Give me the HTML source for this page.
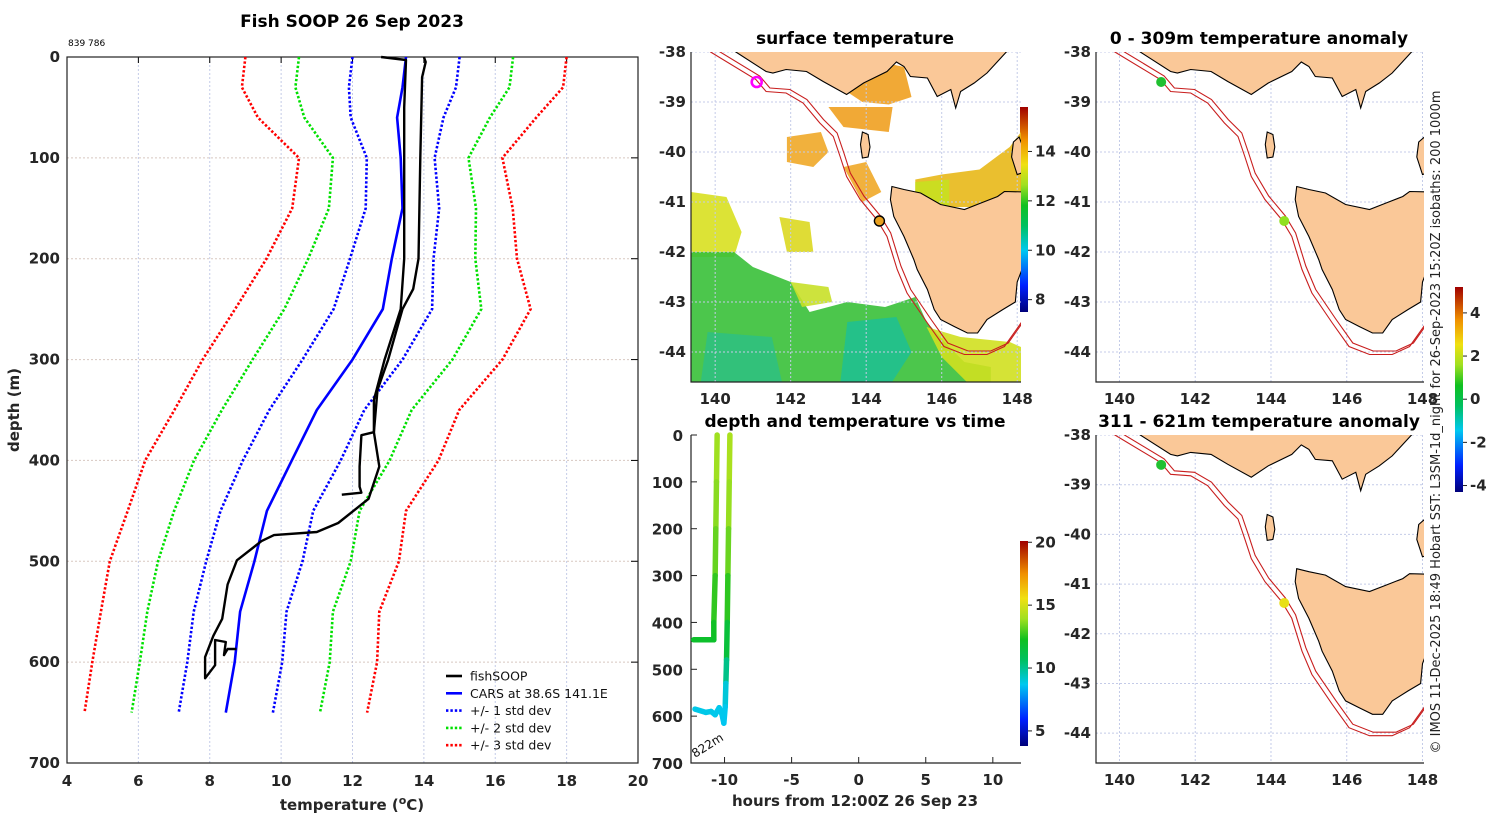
<!DOCTYPE html>
<html><head><meta charset="utf-8"><title>Fish SOOP 26 Sep 2023</title>
<style>
html,body{margin:0;padding:0;background:#fff;}
svg{display:block;font-family:"DejaVu Sans","Liberation Sans",sans-serif;}
.tk{font-weight:bold;font-size:15px;fill:#262626;}
.ttl{font-weight:bold;font-size:17px;fill:#000;}
</style></head>
<body>
<svg id="fig" width="1500" height="820" viewBox="0 0 1500 820" xmlns="http://www.w3.org/2000/svg">
<text class="ttl" x="352" y="27" text-anchor="middle">Fish SOOP 26 Sep 2023</text>
<text x="68" y="46" font-size="9" fill="#000">839 786</text>
<text class="tk" font-size="16" transform="translate(19,410) rotate(-90)" text-anchor="middle">depth (m)</text>
<text class="tk" font-size="16" x="352" y="810" text-anchor="middle">temperature (<tspan font-size="11" dy="-6">o</tspan><tspan dy="6">C)</tspan></text>
<text class="ttl" x="855" y="44" text-anchor="middle">surface temperature</text>
<text class="ttl" x="1259" y="44" text-anchor="middle">0 - 309m temperature anomaly</text>
<text class="ttl" x="855" y="427" text-anchor="middle">depth and temperature vs time</text>
<text class="ttl" x="1259" y="427" text-anchor="middle">311 - 621m temperature anomaly</text>
<text class="tk" font-size="16" x="855" y="806" text-anchor="middle">hours from 12:00Z 26 Sep 23</text>
<text font-size="13" fill="#222" transform="translate(1440,422) rotate(-90)" text-anchor="middle">© IMOS 11-Dec-2025 18:49 Hobart SST: L3SM-1d_night for 26-Sep-2023 15:20Z isobaths: 200  1000m</text>
<g id="g"></g>
</svg>
<script>
// ---------- profile data ----------
const depths=[0,30,60,100,150,200,250,300,350,400,450,500,550,600,650];
const carsMean=[13.5,13.4,13.25,13.35,13.4,13.1,12.85,12.0,11.0,10.3,9.6,9.25,8.85,8.7,8.45];
const carsStd=[1.5,1.5,1.3,0.95,1.03,1.17,1.38,1.4,1.33,1.37,1.3,1.35,1.3,1.33,1.32];
const fishT=[12.8,13.5,13.45,13.45,13.35,12.9,12.6,12.6,12.75,12.45,11.6,11.0,9.8,9.45,8.76,8.5,8.35,8.1,7.87,7.87,8.15,8.15,8.45,8.4,8.5,8.75];
const fishD=[0,3,50,200,250,300,340,372,406,438,462,471,474,480,499,523,557,574,595,616,603,578,580,593,587,587];
const fishUpT=[11.7,12.25,12.2,12.2,12.25,12.6,12.7,13.0,13.4,13.7,13.85,13.9,13.95,14.05,14.0];
const fishUpD=[434,432,426,406,375,372,330,300,250,230,200,100,20,5,0];
const tempTicks=[4,6,8,10,12,14,16,18,20];
const depthTicks=[0,100,200,300,400,500,600,700];
// ---------- depth-time data ----------
const hrs1=[-10.55,-10.6,-10.65,-10.7,-10.8,-10.8,-11.5,-12.3];
const dep1=[0,100,200,300,400,437,437,437];
const tmp1=[14,13.8,13.5,13,12.3,12,12,12];
const hrs2=[-9.6,-9.65,-9.7,-9.75,-9.8,-9.85,-9.9,-9.95,-10.05,-10.2,-10.4,-10.7,-11.0,-11.4,-12.2];
const dep2=[0,100,200,300,400,480,530,580,615,595,582,597,590,592,585];
const tmp2=[14.2,14,13.6,13,12.2,11,9.2,8.8,8.6,8.7,8.8,8.7,8.8,8.8,8.8];
const hourTicks=[-10,-5,0,5,10];
const lonTicks=[140,142,144,146,148];
const latTicks=[-38,-39,-40,-41,-42,-43,-44];

const NS="http://www.w3.org/2000/svg";
const G=document.getElementById('g');
function mk(tag,at,par){const e=document.createElementNS(NS,tag);for(const k in at)e.setAttribute(k,at[k]);(par||G).appendChild(e);return e;}

// ---------- profile axes ----------
const PX0=67,PX1=638,PY0=57,PY1=763;
const X=t=>PX0+(t-4)*(PX1-PX0)/16;
const Y=d=>PY0+d*(PY1-PY0)/700;
tempTicks.forEach(t=>{
  const l=mk('line',{x1:X(t),x2:X(t),y1:PY0,y2:PY1,stroke:'#c4cbe8','stroke-width':1,'stroke-dasharray':'2,2'});
  
  
  const tk=mk('text',{x:X(t),y:PY1+23,'text-anchor':'middle','class':'tk'});tk.textContent=t;
  
  
  const m=mk('line',{x1:X(t),x2:X(t),y1:PY0,y2:PY0+6,stroke:'#000'});
  
  
});
depthTicks.forEach(d=>{
  const l=mk('line',{x1:PX0,x2:PX1,y1:Y(d),y2:Y(d),stroke:'#d8c8c0','stroke-width':1,'stroke-dasharray':'2,2'});
  
  
  const tk=mk('text',{x:PX0-7,y:Y(d)+5,'text-anchor':'end','class':'tk'});tk.textContent=d;
  
  
  const m=mk('line',{x1:PX1-7,x2:PX1,y1:Y(d),y2:Y(d),stroke:'#000'});
  
  
});
const fr=mk('rect',{x:PX0,y:PY0,width:PX1-PX0,height:PY1-PY0,fill:'none',stroke:'#222','stroke-width':1.2});



function pts(ts,ds){return ts.map((t,i)=>X(t).toFixed(1)+','+Y(ds[i]).toFixed(1)).join(' ');}
[[3,'#ff0000'],[2,'#00e000'],[1,'#0000ff']].forEach(([k,c])=>{
  [-1,1].forEach(s=>{
    const p=mk('polyline',{points:pts(carsMean.map((m,i)=>m+s*k*carsStd[i]),depths),fill:'none',stroke:c,'stroke-width':2.6,'stroke-dasharray':'2.4,2'});
    
    
  });
});
const cars=mk('polyline',{points:pts(carsMean,depths),fill:'none',stroke:'#0000ff','stroke-width':2.6});


const fishA=mk('polyline',{points:pts(fishT,fishD),fill:'none',stroke:'#000','stroke-width':2.4,'stroke-linejoin':'round'});


const fishB=mk('polyline',{points:pts(fishUpT,fishUpD),fill:'none',stroke:'#000','stroke-width':2.4,'stroke-linejoin':'round'});



// legend
const legItems=[['fishSOOP','#000',''],['CARS at 38.6S 141.1E','#0000ff',''],['+/- 1 std dev','#0000ff','2.4,2'],['+/- 2 std dev','#00e000','2.4,2'],['+/- 3 std dev','#ff0000','2.4,2']];
legItems.forEach((it,i)=>{
  const y=676+i*17.3;
  const l=mk('line',{x1:446,x2:462,y1:y,y2:y,stroke:it[1],'stroke-width':2.6,'stroke-dasharray':it[2]||'none'});
  
  
  const t=mk('text',{x:470,y:y+4.5,'font-size':12.5,fill:'#111'});t.textContent=it[0];
  
  
});

// ---------- colormap ----------
const cstops=[[0,'#00007a'],[0.13,'#0020ff'],[0.3,'#00c8f0'],[0.42,'#00c060'],[0.52,'#10c020'],[0.62,'#a0e020'],[0.72,'#f0e010'],[0.84,'#f09000'],[1,'#a00000']];
function hex(h){return [1,3,5].map(i=>parseInt(h.substr(i,2),16));}
function cmap(f){f=Math.max(0,Math.min(1,f));for(let i=1;i<cstops.length;i++){if(f<=cstops[i][0]){const a=cstops[i-1],b=cstops[i];const u=(f-a[0])/(b[0]-a[0]);const A=hex(a[1]),B=hex(b[1]);return 'rgb('+A.map((v,j)=>Math.round(v+(B[j]-v)*u)).join(',')+')';}}return cstops[cstops.length-1][1];}
const defs=mk('defs',{});
const lg=mk('linearGradient',{id:'jet',x1:0,y1:1,x2:0,y2:0},defs);
cstops.forEach(s=>mk('stop',{offset:s[0],'stop-color':s[1]},lg));
function colorbar(name,x,y0,y1,vmin,vmax,ticks){
  const r=mk('rect',{x:x,y:y0,width:8,height:y1-y0,fill:'url(#jet)'});
  
  
  ticks.forEach(v=>{
    const yy=y1-(v-vmin)/(vmax-vmin)*(y1-y0);
    const m=mk('line',{x1:x+8,x2:x+12,y1:yy,y2:yy,stroke:'#222'});
    
    
    const t=mk('text',{x:x+15,y:yy+5,'class':'tk','font-size':13});t.textContent=v;
    
    
  });
}
colorbar('sst-colorbar',1020,107,312,7.5,15.8,[8,10,12,14]);
colorbar('depth-time-colorbar',1020,541,746,3.8,20.1,[5,10,15,20]);
colorbar('anomaly-colorbar',1455,287,492,-4.3,5.2,[-4,-2,0,2,4]);

// ---------- maps ----------
const vic=[[139.3,-37.5],[140.55,-38],[141.35,-38.39],[141.53,-38.42],[141.88,-38.35],[142.42,-38.39],[142.86,-38.59],[143.48,-38.85],[143.93,-38.62],[144.55,-38.39],[144.8,-38.2],[145.0,-38.29],[145.17,-38.49],[145.62,-38.52],[145.88,-38.89],[146.24,-38.75],[146.37,-39.12],[146.5,-38.79],[146.86,-38.62],[147.2,-38.42],[147.71,-38],[148.5,-37.5]];
const tas=[[144.68,-40.69],[145.0,-40.75],[145.44,-40.82],[145.97,-41.05],[146.6,-41.15],[147.04,-41.02],[147.48,-40.89],[147.66,-40.79],[148.25,-40.8],[148.3,-42.0],[148.0,-42.6],[147.95,-43.0],[147.62,-43.15],[147.2,-43.35],[146.95,-43.62],[146.68,-43.62],[146.33,-43.49],[145.97,-43.35],[145.8,-43.15],[145.62,-42.75],[145.35,-42.35],[145.26,-42.15],[145.0,-41.69],[144.73,-41.29],[144.64,-40.95]];
const king=[[143.9,-39.6],[144.05,-39.65],[144.1,-39.9],[144.05,-40.1],[143.9,-40.12],[143.85,-39.85]];
const flinders=[[147.9,-39.8],[148.05,-39.7],[148.2,-40.0],[148.2,-40.4],[148.0,-40.45],[147.85,-40.1]];
const iso=[[139.5,-37.8],[139.88,-38],[141.08,-38.55],[141.35,-38.79],[141.88,-38.82],[142.33,-39.02],[142.77,-39.42],[143.13,-39.69],[143.31,-40.09],[143.48,-40.49],[143.84,-40.95],[144.28,-41.35],[144.55,-41.69],[144.82,-42.35],[145.08,-42.82],[145.62,-43.42],[146.06,-43.89],[146.6,-44.05],[147.2,-44.05],[147.66,-43.89],[148.1,-43.42],[148.4,-43.1]];
const sstPatches=[
 ['#f0a020',[[143.6,-38.3],[144.4,-38.2],[145.0,-38.3],[145.2,-38.9],[144.6,-39.05],[143.9,-39.0],[143.5,-38.8]]],
 ['#f0a828',[[141.9,-39.7],[142.8,-39.6],[143.0,-40.0],[142.6,-40.3],[141.9,-40.2]]],
 ['#f0a020',[[143.0,-39.1],[144.7,-39.1],[144.6,-39.6],[143.4,-39.5]]],
 ['#f0a828',[[143.4,-40.3],[144.0,-40.2],[144.4,-40.8],[143.9,-41.0]]],
 ['#e8b818',[[145.3,-40.55],[146.0,-40.45],[147.0,-40.35],[147.8,-39.9],[148.1,-39.6],[148.1,-41.1],[145.3,-41.1]]],
 ['#c8e020',[[145.3,-40.6],[146.2,-40.55],[146.2,-41.1],[145.3,-41.1]]],
 ['#d8e020',[[139.36,-40.8],[140.3,-40.9],[140.7,-41.6],[140.5,-42.1],[139.36,-42.1]]],
 ['#dcd820',[[141.7,-41.3],[142.5,-41.4],[142.6,-42.0],[141.9,-42.0]]],
 ['#38c038',[[139.36,-42.0],[140.5,-42.0],[141.0,-42.3],[142.0,-42.6],[142.5,-43.2],[143.5,-43.0],[144.5,-43.1],[145.3,-42.9],[145.6,-43.4],[146.2,-43.9],[146.6,-44.2],[147.3,-44.3],[147.3,-44.7],[139.36,-44.7]]],
 ['#20c090',[[143.5,-43.4],[144.8,-43.3],[145.2,-44.0],[144.6,-44.7],[143.3,-44.7]]],
 ['#30c080',[[139.8,-43.6],[141.5,-43.7],[141.8,-44.7],[139.6,-44.7]]],
 ['#d0e020',[[145.6,-43.5],[146.5,-43.7],[147.8,-43.8],[148.1,-43.9],[148.1,-44.7],[146.8,-44.7],[146.0,-44.1]]],
 ['#c8e028',[[142.0,-42.6],[143.0,-42.7],[143.1,-43.0],[142.3,-43.1]]]
];
let clipN=0;
function drawMap(nm,x0,x1,y0,y1,lon0,lon1,lat0,lat1,sst,dots){
  const Lx=l=>x0+(l-lon0)/(lon1-lon0)*(x1-x0);
  const Ly=l=>y0+(lat0-l)/(lat0-lat1)*(y1-y0);
  const P=arr=>arr.map(p=>Lx(p[0]).toFixed(1)+','+Ly(p[1]).toFixed(1)).join(' ');
  const cid='clip'+(clipN++);
  const cp=mk('clipPath',{id:cid},defs);mk('rect',{x:x0,y:y0,width:x1-x0,height:y1-y0},cp);
  const g=mk('g',{'clip-path':'url(#'+cid+')'});
  
  
  if(sst){sstPatches.forEach(sp=>{const p=mk('polygon',{points:P(sp[1]),fill:sp[0],opacity:0.9},g);
    
    });}
  lonTicks.forEach(l=>{const ln=mk('line',{x1:Lx(l),x2:Lx(l),y1:y0,y2:y1,stroke:'#c4cbe8','stroke-dasharray':'2,2'},g);
    
    });
  latTicks.forEach(l=>{const ln=mk('line',{x1:x0,x2:x1,y1:Ly(l),y2:Ly(l),stroke:'#c4cbe8','stroke-dasharray':'2,2'},g);
    
    });
  [vic,tas,king,flinders].forEach(poly=>{const p=mk('polygon',{points:P(poly),fill:'#fac898',stroke:'#000','stroke-width':1.1},g);
    
    });
  [[0,0],[0.1,0.07]].forEach(o=>{const p=mk('polyline',{points:P(iso.map(q=>[q[0]+o[0],q[1]+o[1]])),fill:'none',stroke:'#c81e1e','stroke-width':1.1},g);
    
    });
  dots.forEach(d=>{const c=mk('circle',{cx:Lx(d[0]),cy:Ly(d[1]),r:5,fill:d[2],stroke:d[3],'stroke-width':d[4]},g);
    
    });
  const fr=mk('path',{d:'M'+x0+','+y0+'V'+y1+'H'+x1,fill:'none',stroke:'#222','stroke-width':1.2});
  
  
  lonTicks.forEach(l=>{const t=mk('text',{x:Lx(l),y:y1+22,'text-anchor':'middle','class':'tk'});t.textContent=l;
    
    });
  latTicks.forEach(l=>{const t=mk('text',{x:x0-5,y:Ly(l)+5,'text-anchor':'end','class':'tk'});t.textContent=l;
    
    });
}
drawMap('sst-map',691,1021,52,382,139.36,148.1,-38,-44.6,true,[[141.1,-38.6,'none','#ff00ff',2.6],[144.35,-41.38,'#e8a020','#000',1.4]]);
drawMap('anomaly-map-top',1096,1424,52,382,139.38,148.04,-38,-44.6,false,[[141.1,-38.6,'#20c030','none',0],[144.35,-41.38,'#90e020','none',0]]);
drawMap('anomaly-map-bottom',1096,1424,435,763,139.38,148.04,-38,-44.6,false,[[141.1,-38.6,'#20c030','none',0],[144.35,-41.38,'#e8e018','none',0]]);

// ---------- depth-time panel ----------
const TX0=691,TX1=1021,TY0=435,TY1=763;
const HX=h=>TX0+(h+12.5)*(TX1-TX0)/24.6;
const HY=d=>TY0+d*(TY1-TY0)/700;
const ax=mk('path',{d:'M'+TX0+','+TY0+'V'+TY1+'H'+TX1,fill:'none',stroke:'#222','stroke-width':1.2});


hourTicks.forEach(h=>{
  const m=mk('line',{x1:HX(h),x2:HX(h),y1:TY1,y2:TY1-6,stroke:'#222'});
  
  
  const t=mk('text',{x:HX(h),y:TY1+22,'text-anchor':'middle','class':'tk'});t.textContent=h;
  
  
});
depthTicks.forEach(d=>{
  const m=mk('line',{x1:TX0,x2:TX0+6,y1:HY(d),y2:HY(d),stroke:'#222'});
  
  
  const t=mk('text',{x:TX0-8,y:HY(d)+6,'text-anchor':'end','class':'tk','font-size':16});t.textContent=d;
  
  
});
const bl=mk('line',{x1:TX0,x2:HX(-10.8),y1:HY(440),y2:HY(440),stroke:'#000','stroke-width':1});


function trace(nm,hs,ds,ts){
  for(let i=1;i<hs.length;i++){
    const s=mk('line',{x1:HX(hs[i-1]),y1:HY(ds[i-1]),x2:HX(hs[i]),y2:HY(ds[i]),stroke:cmap(((ts[i-1]+ts[i])/2-3.8)/16.3),'stroke-width':5.5,'stroke-linecap':'round'});
    
    
  }
}
trace('cast-1-segment',hrs1,dep1,tmp1);
trace('cast-2-segment',hrs2,dep2,tmp2);
const dl=mk('text',{x:0,y:0,'font-size':12,fill:'#111',transform:'translate(695,758) rotate(-32)'});dl.textContent='822m';


</script>
</body></html>
